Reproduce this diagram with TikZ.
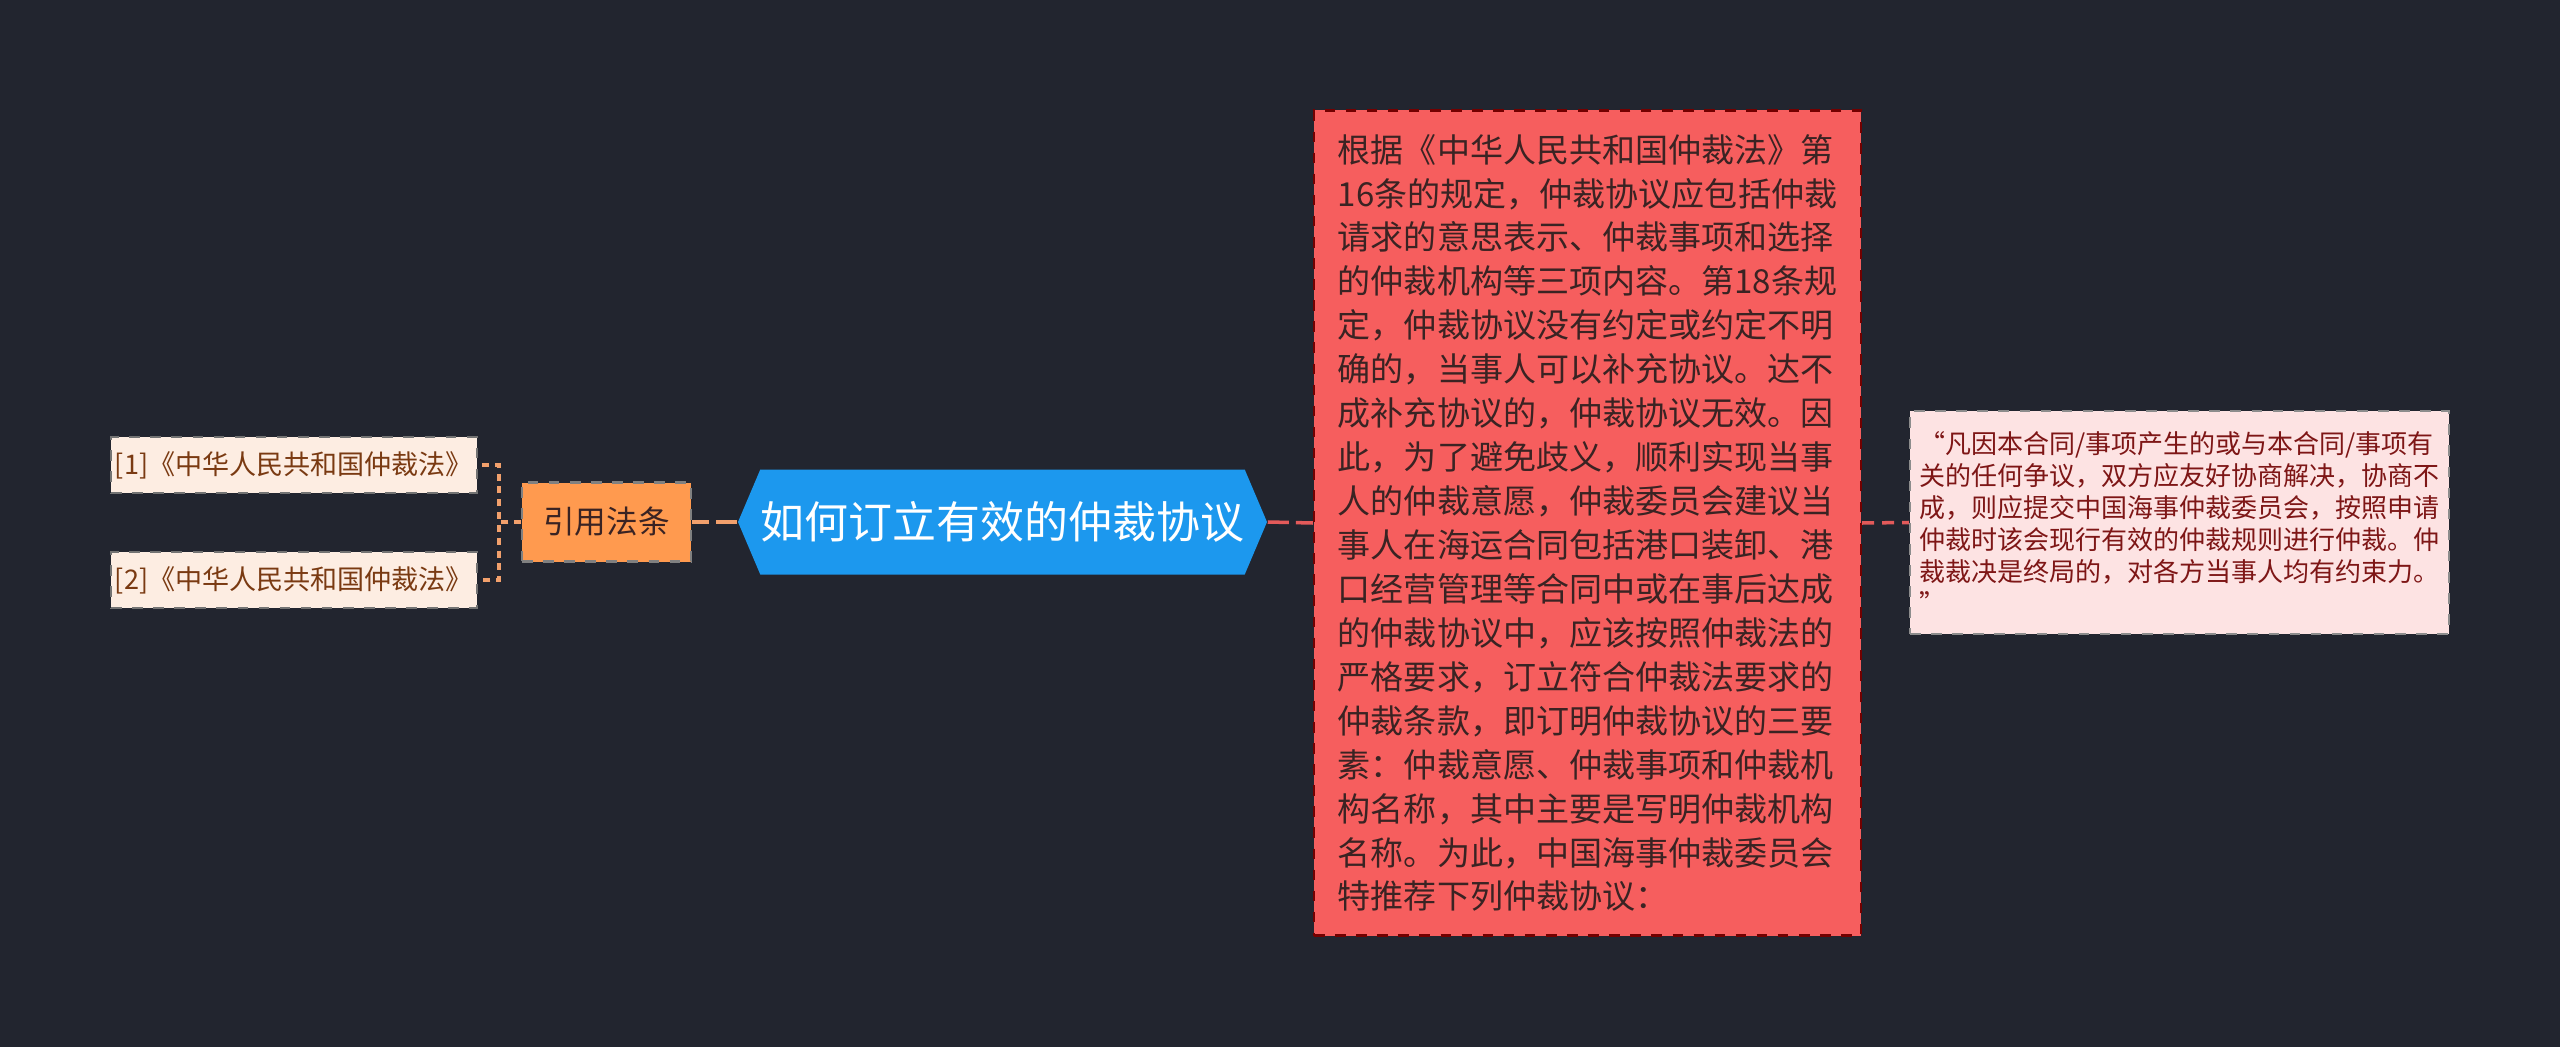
\documentclass[tikz,border=0pt]{standalone}
\usepackage{fontspec}
\setmainfont{Noto Sans CJK SC}
\usepackage{tkz-euclide}
\usetikzlibrary{shapes.symbols}
\definecolor{bgnavy}{HTML}{22252F}
\definecolor{refcream}{HTML}{FDEDE2}
\definecolor{refbrown}{HTML}{7A3A12}
\definecolor{yinorange}{HTML}{FF9A4F}
\definecolor{hubblue}{HTML}{1C98EE}
\definecolor{mainred}{HTML}{F65E5E}
\definecolor{maintext}{HTML}{3A2323}
\definecolor{quotepink}{HTML}{FDE3E3}
\definecolor{quotetext}{HTML}{7E1616}
\definecolor{branchorange}{HTML}{F2A06C}
\definecolor{linered}{HTML}{E35A5A}
\tikzset{refbox/.style = {draw=black!55, dashed, line width=0.6pt, fill=refcream, text=refbrown,
    font=\fontsize{7.7}{9}\selectfont, minimum width=3.66cm, minimum height=0.56cm, inner sep=0pt}}
\tikzset{yinbox/.style = {draw=black!50, dashed, line width=0.6pt, fill=yinorange, text=maintext,
    font=\fontsize{9}{11}\selectfont, minimum width=1.69cm, minimum height=0.79cm, inner sep=0pt}}
\tikzset{hubsig/.style = {signal, signal to=west and east, signal pointer angle=134, fill=hubblue,
    text=white, font=\fontsize{12.5}{15}\selectfont, minimum width=5.29cm, minimum height=1.05cm, inner sep=0pt}}
\tikzset{mainbox/.style = {draw=red!45!black, dashed, line width=0.6pt, fill=mainred, text=maintext,
    font=\fontsize{9.4}{12.5}\selectfont, align=left, minimum width=5.47cm, minimum height=8.25cm, inner sep=0pt}}
\tikzset{quotebox/.style = {draw=black!45, dashed, line width=0.6pt, fill=quotepink, text=quotetext,
    font=\fontsize{7.4}{9.1}\selectfont, align=left, minimum width=5.39cm, minimum height=2.23cm, inner sep=0pt}}
\tikzset{branchline/.style = {draw=branchorange, line width=1pt, dash pattern=on 2pt off 1.6pt}}
\tikzset{hubline/.style = {draw=branchorange, line width=1pt, dash pattern=on 6pt off 2pt}}
\tikzset{mainline/.style = {draw=linered, line width=1pt, dash pattern=on 6pt off 2pt}}
\tikzset{quoteline/.style = {draw=linered, line width=1pt, dash pattern=on 3.4pt off 2.3pt}}

\begin{document}
\begin{tikzpicture}
    \tkzDefPoints{2.94/5.82/R1, 2.94/4.67/R2, 6.065/5.25/Y, 10.025/5.25/H, 15.875/5.24/M, 21.795/5.245/Q}
    \useasboundingbox (0,0) rectangle (25.6,10.47);
    \fill[bgnavy] (0,0) rectangle (25.6,10.47);
    \node[refbox] (ref1) at (R1) {[1]《中华人民共和国仲裁法》};
    \node[refbox] (ref2) at (R2) {[2]《中华人民共和国仲裁法》};
    \node[yinbox] (yin) at (Y) {引用法条};
    \node[hubsig] (hub) at (H) {如何订立有效的仲裁协议};
    \node[mainbox] (main) at (M) {根据《中华人民共和国仲裁法》第\\
        16条的规定，仲裁协议应包括仲裁\\
        请求的意思表示、仲裁事项和选择\\
        的仲裁机构等三项内容。第18条规\\
        定，仲裁协议没有约定或约定不明\\
        确的，当事人可以补充协议。达不\\
        成补充协议的，仲裁协议无效。因\\
        此，为了避免歧义，顺利实现当事\\
        人的仲裁意愿，仲裁委员会建议当\\
        事人在海运合同包括港口装卸、港\\
        口经营管理等合同中或在事后达成\\
        的仲裁协议中，应该按照仲裁法的\\
        严格要求，订立符合仲裁法要求的\\
        仲裁条款，即订明仲裁协议的三要\\
        素：仲裁意愿、仲裁事项和仲裁机\\
        构名称，其中主要是写明仲裁机构\\
        名称。为此，中国海事仲裁委员会\\
        特推荐下列仲裁协议：};
    \node[quotebox] (quote) at (Q) {“凡因本合同/事项产生的或与本合同/事项有\\
        关的任何争议，双方应友好协商解决，协商不\\
        成，则应提交中国海事仲裁委员会，按照申请\\
        仲裁时该会现行有效的仲裁规则进行仲裁。仲\\
        裁裁决是终局的，对各方当事人均有约束力。\\
        ”};
    \draw[branchline] (yin.west) -- ++(-0.22,0) |- (ref1.east);
    \draw[branchline] (yin.west) -- ++(-0.22,0) |- (ref2.east);
    \draw[hubline] (hub.west) -- (yin.east);
    \draw[mainline] (hub.east) -- (main.west);
    \draw[quoteline] (main.east) -- (quote.west);
\end{tikzpicture}
\end{document}
